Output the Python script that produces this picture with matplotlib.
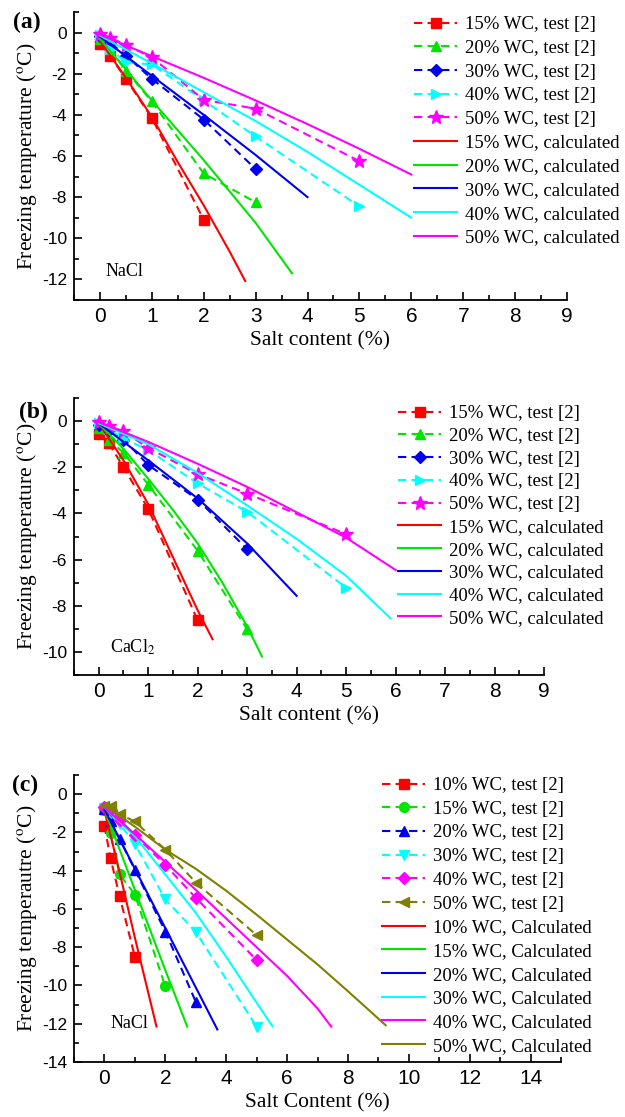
import matplotlib
matplotlib.use("Agg")
import matplotlib.pyplot as plt
from matplotlib.ticker import MultipleLocator

plt.rcParams['font.family'] = ['Liberation Serif', 'DejaVu Serif']
plt.rcParams['mathtext.fontset'] = 'stix'
plt.rcParams['axes.unicode_minus'] = False

# ---------------- Panel (a): NaCl ----------------
a_t15_x = [0, 0.2, 0.5, 1, 2]
a_t15_y = [-0.55, -1.15, -2.25, -4.15, -9.1]
a_t20_x = [0, 0.2, 0.5, 1, 2, 3]
a_t20_y = [-0.3, -0.8, -1.85, -3.35, -6.85, -8.25]
a_t30_x = [0, 0.2, 0.5, 1, 2, 3]
a_t30_y = [-0.15, -0.5, -1.12, -2.25, -4.23, -6.63]
a_t40_x = [0, 0.2, 0.5, 1, 2, 3, 5]
a_t40_y = [-0.1, -0.8, -1.45, -1.55, -3.3, -5.05, -8.45]
a_t50_x = [0, 0.2, 0.5, 1, 2, 3, 5]
a_t50_y = [-0.05, -0.25, -0.6, -1.2, -3.27, -3.7, -6.25]

a_c15_x = [0, 0.5, 1, 1.5, 2, 2.5, 2.8]
a_c15_y = [-0.4, -2.2, -4.1, -6.3, -8.4, -10.65, -12.08]
a_c20_x = [0, 1, 2, 3, 3.7]
a_c20_y = [-0.3, -3.3, -6.2, -9.25, -11.7]
a_c30_x = [0, 1, 2, 3, 4]
a_c30_y = [-0.2, -2.1, -4.0, -5.95, -8.0]
a_c40_x = [0, 1, 2, 3, 4, 5, 6]
a_c40_y = [-0.15, -1.5, -2.9, -4.3, -5.8, -7.4, -9.0]
a_c50_x = [0, 1, 2, 3, 4, 5, 6]
a_c50_y = [-0.1, -1.15, -2.2, -3.3, -4.45, -5.65, -6.9]

a_labels_wc = ['15%', '20%', '30%', '40%', '50%']

# ---------------- Panel (b): CaCl2 ----------------
b_t15_x = [0, 0.2, 0.5, 1, 2]
b_t15_y = [-0.55, -0.95, -2.0, -3.8, -8.63]
b_t20_x = [0, 0.2, 0.5, 1, 2, 3]
b_t20_y = [-0.3, -0.8, -1.37, -2.75, -5.62, -9.02]
b_t30_x = [0, 0.2, 0.5, 1, 2, 3]
b_t30_y = [-0.15, -0.4, -0.8, -1.9, -3.4, -5.55]
b_t40_x = [0, 0.2, 0.5, 1, 2, 3, 5]
b_t40_y = [-0.1, -0.35, -0.75, -1.25, -2.7, -3.93, -7.22]
b_t50_x = [0, 0.2, 0.5, 1, 2, 3, 5]
b_t50_y = [-0.06, -0.2, -0.45, -1.16, -2.3, -3.14, -4.9]

b_c15_x = [0, 0.5, 1, 1.5, 2, 2.3]
b_c15_y = [-0.1, -1.7, -3.6, -5.9, -8.2, -9.45]
b_c20_x = [0, 0.5, 1, 1.5, 2, 2.5, 3, 3.3]
b_c20_y = [-0.1, -1.2, -2.5, -3.85, -5.3, -7.0, -8.9, -10.2]
b_c30_x = [0, 1, 2, 3, 4]
b_c30_y = [-0.1, -1.7, -3.35, -5.3, -7.57]
b_c40_x = [0, 1, 2, 3, 4, 5, 5.9]
b_c40_y = [-0.1, -1.0, -2.25, -3.65, -5.1, -6.7, -8.55]
b_c50_x = [0, 1, 2, 3, 4, 5, 6]
b_c50_y = [-0.05, -0.9, -1.85, -2.85, -3.95, -5.05, -6.45]

b_labels_wc = ['15%', '20%', '30%', '40%', '50%']

# ---------------- Panel (c): NaCl ----------------
c_t10_x = [0, 0.2, 0.5, 1]
c_t10_y = [-1.65, -3.35, -5.35, -8.5]
c_t15_x = [0, 0.2, 0.5, 1, 2]
c_t15_y = [-0.85, -2.05, -4.2, -5.25, -10.05]
c_t20_x = [0, 0.2, 0.5, 1, 2, 3]
c_t20_y = [-0.8, -1.4, -2.35, -3.95, -7.18, -10.85]
c_t30_x = [0, 0.2, 0.5, 1, 2, 3, 5]
c_t30_y = [-0.7, -1.0, -1.55, -2.6, -5.5, -7.2, -12.15]
c_t40_x = [0, 0.2, 0.5, 1, 2, 3, 5]
c_t40_y = [-0.65, -0.85, -1.35, -2.15, -3.7, -5.42, -8.67]
c_t50_x = [0, 0.2, 0.5, 1, 2, 3, 5]
c_t50_y = [-0.6, -0.6, -1.05, -1.43, -2.9, -4.62, -7.37]

c_c10_x = [0, 0.5, 1, 1.71]
c_c10_y = [-0.85, -4.1, -7.5, -12.15]
c_c15_x = [0, 1, 2, 2.72]
c_c15_y = [-0.8, -5.0, -9.2, -12.15]
c_c20_x = [0, 1, 2, 3, 3.71]
c_c20_y = [-0.8, -3.9, -7.0, -10.1, -12.3]
c_c30_x = [0, 1, 2, 3, 4, 5, 5.52]
c_c30_y = [-0.7, -2.2, -4.2, -6.2, -8.5, -10.9, -12.13]
c_c40_x = [0, 1, 2, 3, 4, 5, 6, 7, 7.45]
c_c40_y = [-0.7, -2.1, -3.55, -5.0, -6.5, -8.0, -9.5, -11.2, -12.15]
c_c50_x = [0, 1, 2, 3, 4, 5, 6, 7, 8, 9.24]
c_c50_y = [-0.6, -1.7, -2.9, -3.9, -5.05, -6.3, -7.6, -8.9, -10.3, -12.08]

c_labels_wc = ['10%', '15%', '20%', '30%', '40%', '50%']

# ---------------- Styles ----------------
RED, GREEN, BLUE, CYAN, MAG, OLIVE = '#ff0000', '#00e600', '#0000f0', '#00ffff', '#ff00ff', '#808000'
colors5 = [RED, GREEN, BLUE, CYAN, MAG]
colors6 = [RED, GREEN, BLUE, CYAN, MAG, OLIVE]
markers_ab = ['s', '^', 'D', '>', '*']
msizes_ab = [7, 7.5, 6.5, 7.5, 10]
markers_c = ['s', 'o', '^', 'v', 'D', '<']
msizes_c = [7, 7, 7.5, 7.5, 6.5, 7.5]

W, H = 625, 1117
fig = plt.figure(figsize=(W / 100, H / 100), dpi=100)


def add_ax(l, r, t, b):
    return fig.add_axes([l / W, 1 - b / H, (r - l) / W, (b - t) / H])


YLABEL = r'Freezing temperature (${}^{\mathrm{o}}$C)'
LEG_FS = 13.5
LW = 1.5
DASH = (4, 2.5)
SERIF = ['Liberation Serif', 'DejaVu Serif']
SANS = ['Liberation Sans', 'DejaVu Sans']


def style_axes(ax, xlim, ylim, xmaj, xmin, ymaj, ymin, xlabel, ylabel):
    ax.set_xlim(*xlim)
    ax.set_ylim(*ylim)
    ax.xaxis.set_major_locator(MultipleLocator(xmaj))
    ax.xaxis.set_minor_locator(MultipleLocator(xmin))
    ax.yaxis.set_major_locator(MultipleLocator(ymaj))
    ax.yaxis.set_minor_locator(MultipleLocator(ymin))
    for s in ['top', 'right']:
        ax.spines[s].set_visible(False)
    for s in ['left', 'bottom']:
        ax.spines[s].set_linewidth(1.3)
    ax.tick_params(which='both', direction='in', width=1.2)
    ax.tick_params(which='major', length=6)
    ax.tick_params(which='minor', length=3.5)
    ax.tick_params(axis='x', which='major', pad=5, labelsize=15)
    ax.tick_params(axis='y', which='major', pad=5, labelsize=12.5)
    for lab in ax.get_xticklabels() + ax.get_yticklabels():
        lab.set_family(SANS)
    ax.set_xlabel(xlabel, fontsize=15.5, labelpad=4, family=SERIF)
    ax.set_ylabel(ylabel, fontsize=15.5, labelpad=2, family=SERIF)


def draw_panel(ax, tests, calcs, colors, markers, msizes, wc, calc_word):
    for (x, y), c, m, ms, w in zip(tests, colors, markers, msizes, wc):
        ax.plot(x, y, color=c, lw=LW, ls=(0, DASH), marker=m, ms=ms,
                mec=c, mfc=c, label=f'{w} WC, test [2]')
    for (x, y), c, w in zip(calcs, colors, wc):
        ax.plot(x, y, color=c, lw=LW, ls='-', label=f'{w} WC, {calc_word}')


# Panel (a)
axa = add_ax(74, 567, 12, 300)
draw_panel(axa,
           [(a_t15_x, a_t15_y), (a_t20_x, a_t20_y), (a_t30_x, a_t30_y), (a_t40_x, a_t40_y), (a_t50_x, a_t50_y)],
           [(a_c15_x, a_c15_y), (a_c20_x, a_c20_y), (a_c30_x, a_c30_y), (a_c40_x, a_c40_y), (a_c50_x, a_c50_y)],
           colors5, markers_ab, msizes_ab, a_labels_wc, 'calculated')
style_axes(axa, (-0.5, 9), (-13, 1), 1, 0.5, 2, 1, 'Salt content (%)', YLABEL)
axa.text(0.1, -11.6, 'NaCl', fontsize=13, va='center', ha='left')

# Panel (b)
axb = add_ax(74, 544, 398, 675)
draw_panel(axb,
           [(b_t15_x, b_t15_y), (b_t20_x, b_t20_y), (b_t30_x, b_t30_y), (b_t40_x, b_t40_y), (b_t50_x, b_t50_y)],
           [(b_c15_x, b_c15_y), (b_c20_x, b_c20_y), (b_c30_x, b_c30_y), (b_c40_x, b_c40_y), (b_c50_x, b_c50_y)],
           colors5, markers_ab, msizes_ab, b_labels_wc, 'calculated')
style_axes(axb, (-0.5, 9), (-11, 1), 1, 0.5, 2, 1, 'Salt content (%)', YLABEL)
axb.text(0.23, -9.8, r'CaCl$_{\mathrm{2}}$', fontsize=13, va='center', ha='left')

# Panel (c)
axc = add_ax(74, 561, 775, 1062)
draw_panel(axc,
           [(c_t10_x, c_t10_y), (c_t15_x, c_t15_y), (c_t20_x, c_t20_y), (c_t30_x, c_t30_y),
            (c_t40_x, c_t40_y), (c_t50_x, c_t50_y)],
           [(c_c10_x, c_c10_y), (c_c15_x, c_c15_y), (c_c20_x, c_c20_y), (c_c30_x, c_c30_y),
            (c_c40_x, c_c40_y), (c_c50_x, c_c50_y)],
           colors6, markers_c, msizes_c, c_labels_wc, 'Calculated')
style_axes(axc, (-1, 15), (-14, 1), 2, 1, 2, 1, 'Salt Content (%)',
           r'Freezing temperautre (${}^{\mathrm{o}}$C)')
axc.text(0.2, -12.0, 'NaCl', fontsize=13, va='center', ha='left')


# Legends
def put_legend(ax, left_px, top_px, spacing):
    leg = ax.legend(loc='upper left', bbox_to_anchor=(left_px / W, 1 - top_px / H),
                    bbox_transform=fig.transFigure, frameon=False, fontsize=LEG_FS,
                    handlelength=2.3, handletextpad=0.4, labelspacing=spacing,
                    borderpad=0, borderaxespad=0, numpoints=1)
    return leg


put_legend(axa, 414, 16, 0.35)
put_legend(axb, 398, 405, 0.3)
put_legend(axc, 382, 777, 0.35)

# Panel letters
fig.text(27 / W, 1 - 22 / H, '(a)', fontsize=17, fontweight='bold', ha='center', va='center')
fig.text(33 / W, 1 - 412 / H, '(b)', fontsize=17, fontweight='bold', ha='center', va='center')
fig.text(25 / W, 1 - 785 / H, '(c)', fontsize=17, fontweight='bold', ha='center', va='center')

fig.savefig('out.png', dpi=100)
